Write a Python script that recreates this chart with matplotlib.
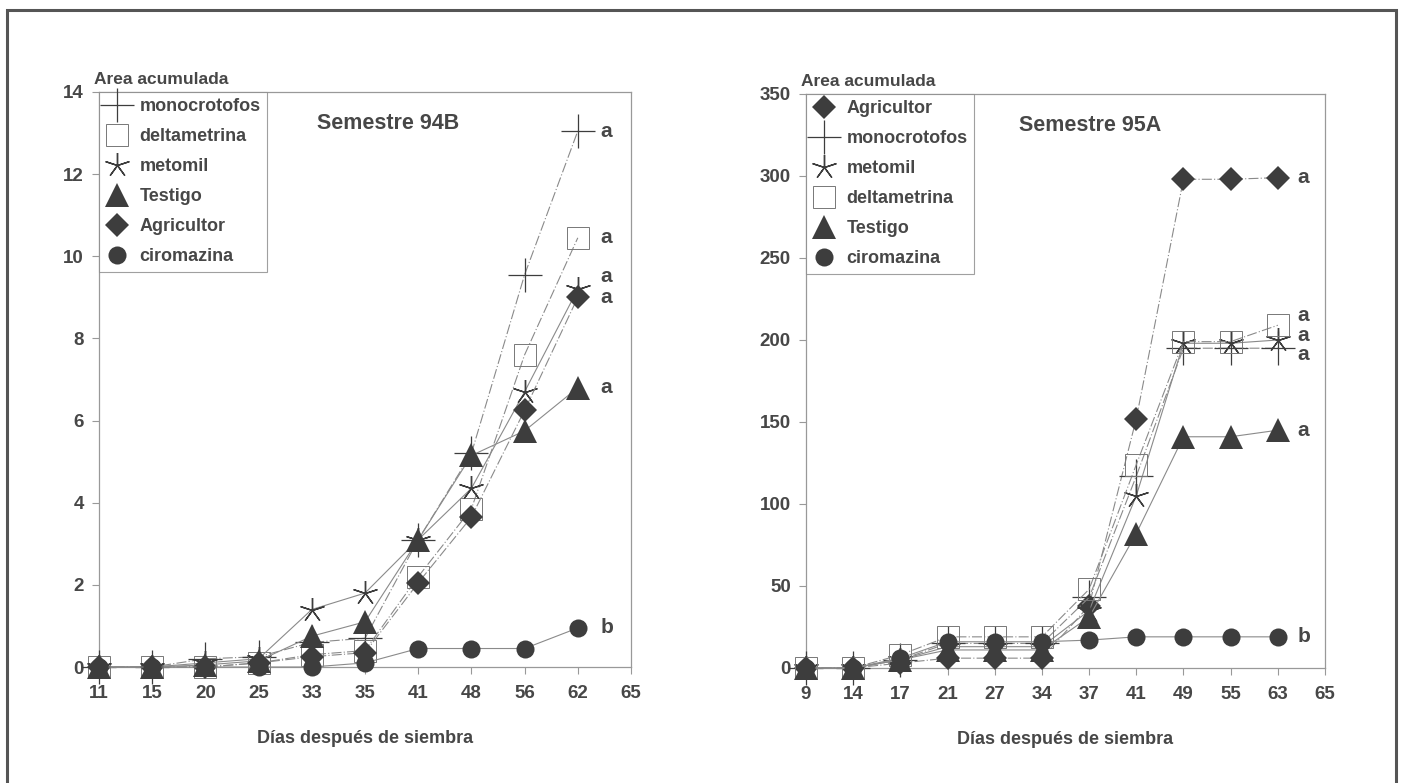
import matplotlib
matplotlib.use("Agg")
import matplotlib.pyplot as plt
from matplotlib.patches import Rectangle

plt.rcParams["font.family"] = ["Liberation Sans", "DejaVu Sans"]
plt.rcParams["font.weight"] = "bold"
plt.rcParams["axes.labelweight"] = "bold"

TXT = "#474747"
LINE = "#8a8a8a"
FILL = "#3d3d3d"

# Semestre 94B
days_94b = ["11", "15", "20", "25", "33", "35", "41", "48", "56", "62"]
mono_94b = [0, 0, 0.2, 0.25, 0.6, 0.7, 3.1, 5.2, 9.55, 13.05]
delta_94b = [0, 0, 0, 0.1, 0.3, 0.4, 2.2, 3.85, 7.6, 10.45]
meto_94b = [0, 0, 0.1, 0.2, 1.4, 1.8, 3.1, 4.35, 6.7, 9.2]
testigo_94b = [0, 0, 0.05, 0.15, 0.75, 1.1, 3.1, 5.15, 5.75, 6.8]
agri_94b = [0, 0, 0, 0.1, 0.25, 0.35, 2.05, 3.65, 6.25, 9.0]
ciro_94b = [0, 0, 0, 0, 0.0, 0.1, 0.45, 0.45, 0.45, 0.95]
letters_94b = ["a", "a", "a", "a", "a", "b"]
letter_y_94b = [13.05, 10.45, 9.5, 9.0, 6.8, 0.95]

# Semestre 95A
days_95a = ["9", "14", "17", "21", "27", "34", "37", "41", "49", "55", "63"]
agri_95a = [0, 0, 3, 6, 6, 6, 38, 152, 298, 298, 299]
mono_95a = [0, 0, 5, 15, 15, 15, 43, 117, 195, 195, 195]
meto_95a = [0, 0, 5, 13, 13, 13, 35, 105, 198, 198, 200]
delta_95a = [0, 0, 8, 19, 19, 19, 48, 124, 199, 199, 209]
testigo_95a = [0, 0, 5, 11, 11, 11, 31, 82, 141, 141, 145]
ciro_95a = [0, 0, 6, 16, 16, 16, 17, 19, 19, 19, 19]
letters_95a = ["a", "a", "a", "a", "a", "b"]
letter_y_95a = [299, 215, 203, 191, 145, 19]

STYLES = {
    "monocrotofos": dict(marker="+", ms=24, mew=0.9, mec=FILL, mfc="none", ls=(0, (9, 2, 1, 2))),
    "deltametrina": dict(marker="s", ms=16, mew=0.7, mec="#777777", mfc="none", ls=(0, (9, 2, 1, 2))),
    "metomil": dict(marker=(5, 2, 0), ms=18, mew=1.0, mec=FILL, mfc="none", ls="-"),
    "Testigo": dict(marker="^", ms=17, mew=0, mec=FILL, mfc=FILL, ls="-"),
    "Agricultor": dict(marker="D", ms=12, mew=0, mec=FILL, mfc=FILL, ls=(0, (9, 2, 1, 2))),
    "ciromazina": dict(marker="o", ms=13, mew=0, mec=FILL, mfc=FILL, ls="-"),
}


def panel(ax, days, series, ymax, ystep, title, letters, letter_y):
    x = list(range(len(days)))
    for name, vals in series:
        st = STYLES[name]
        ax.plot(x, vals, color=LINE, lw=0.8, ls=st["ls"], marker=st["marker"], ms=st["ms"],
                mew=st["mew"], mec=st["mec"], mfc=st["mfc"], clip_on=False, zorder=3)
    for lab, ly in zip(letters, letter_y):
        ax.text(len(days) - 1 + 0.42, ly, lab, fontsize=15, color=TXT, va="center", ha="left")
    ax.set_xlim(0, len(days))
    ax.set_ylim(0, ymax)
    ax.set_xticks(list(range(len(days) + 1)))
    ax.set_xticklabels(days + ["65"])
    ax.set_yticks(list(range(0, ymax + 1, ystep)))
    ax.tick_params(axis="both", colors="#999999", labelcolor=TXT, labelsize=13.5, length=5, width=0.8)
    ax.tick_params(axis="x", pad=8)
    ax.tick_params(axis="y", pad=6)
    for sp in ax.spines.values():
        sp.set_color("#999999")
        sp.set_linewidth(0.9)
    ax.set_xlabel("Días después de siembra", fontsize=13, color=TXT, labelpad=20)
    ax.text(-0.01, 1.008, "Area acumulada", transform=ax.transAxes, fontsize=12.5, color=TXT,
            ha="left", va="bottom")
    ax.text(0.41, 0.945, title, transform=ax.transAxes, fontsize=15.5, color=TXT, ha="left", va="center")

    handles = []
    for name, _ in series:
        st = STYLES[name]
        h, = ax.plot([], [], ls="none", marker=st["marker"], ms=st["ms"], mew=st["mew"],
                     mec=st["mec"], mfc=st["mfc"])
        handles.append((h, name))
    leg = ax.legend([h for h, _ in handles], [n for _, n in handles], loc="upper left",
                    bbox_to_anchor=(0, 1), borderaxespad=0, frameon=True, fancybox=False,
                    fontsize=13, labelspacing=0.72, handlelength=1.3, handletextpad=0.6,
                    borderpad=0.35, labelcolor=TXT)
    leg.get_frame().set_edgecolor("#888888")
    leg.get_frame().set_linewidth(0.8)


fig = plt.figure(figsize=(14.03, 7.83), dpi=100)
fig.patches.append(Rectangle((7 / 1403, -0.05), (1396 - 7) / 1403, 1.05 - 10 / 783,
                             transform=fig.transFigure, fill=False, ec="#555555", lw=2.2))

ax1 = fig.add_axes([99 / 1403, 1 - 667 / 783, (631 - 99) / 1403, (667 - 92) / 783])
panel(ax1, days_94b,
      [("monocrotofos", mono_94b), ("deltametrina", delta_94b), ("metomil", meto_94b),
       ("Testigo", testigo_94b), ("Agricultor", agri_94b), ("ciromazina", ciro_94b)],
      14, 2, "Semestre 94B", letters_94b, letter_y_94b)

ax2 = fig.add_axes([806 / 1403, 1 - 668 / 783, (1325 - 806) / 1403, (668 - 94) / 783])
panel(ax2, days_95a,
      [("Agricultor", agri_95a), ("monocrotofos", mono_95a), ("metomil", meto_95a),
       ("deltametrina", delta_95a), ("Testigo", testigo_95a), ("ciromazina", ciro_95a)],
      350, 50, "Semestre 95A", letters_95a, letter_y_95a)

fig.savefig("out.png", dpi=100)
